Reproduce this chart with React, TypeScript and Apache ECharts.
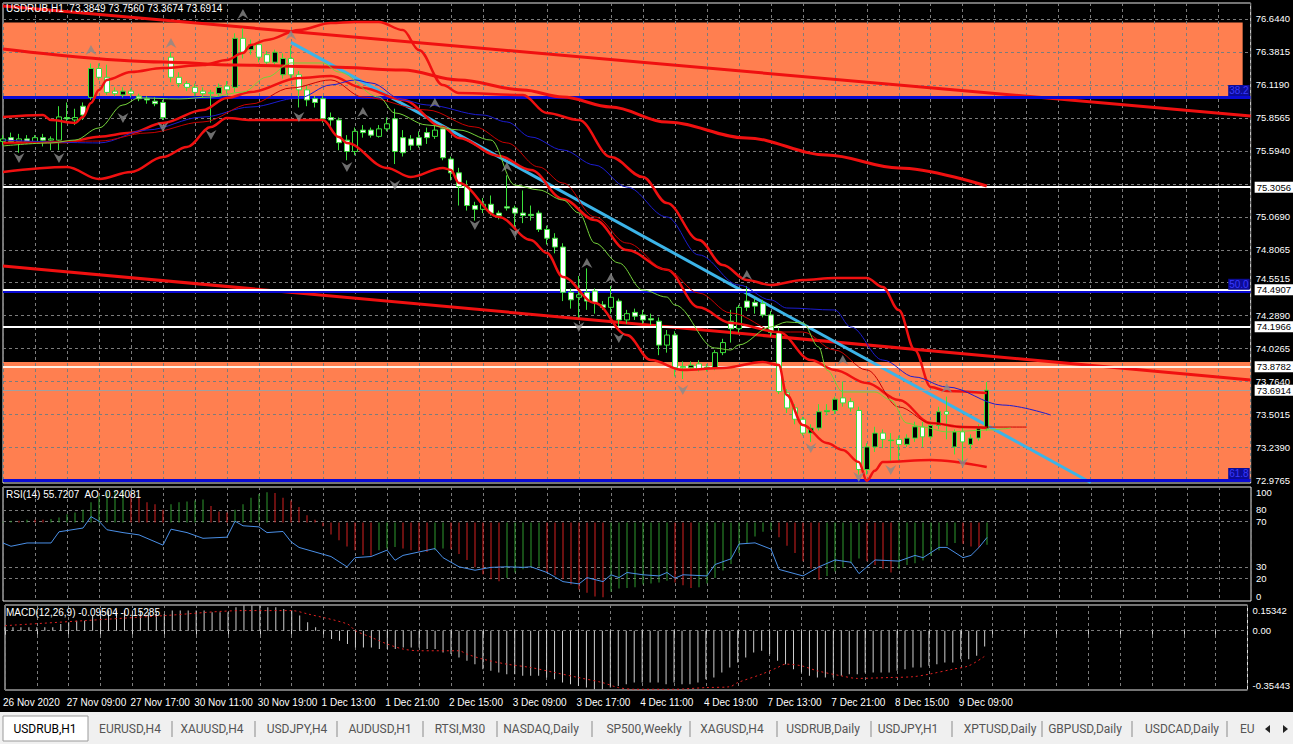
import React, { useEffect, useRef } from "react";
import * as echarts from "echarts";

const FONT = "'Liberation Sans', Arial, sans-serif";
const GRID_COLOR = "#7c7c7c";
const GREEN = "#3be03b";
const RED = "#f01010";
const ORANGE = "#ff7f50";

const tickLabels = ["26 Nov 2020", "27 Nov 09:00", "27 Nov 17:00", "30 Nov 11:00", "30 Nov 19:00", "1 Dec 13:00", "1 Dec 21:00", "2 Dec 15:00", "3 Dec 09:00", "3 Dec 17:00", "4 Dec 11:00", "4 Dec 19:00", "7 Dec 13:00", "7 Dec 21:00", "8 Dec 15:00", "9 Dec 09:00"];
const SLOTS = 157;

const openP = [75.67,75.70,75.67,75.69,75.67,75.70,75.68,75.68,75.86,75.84,
 75.95,76.02,76.25,76.18,76.07,76.04,76.07,76.03,76.01,75.99,
 75.98,76.34,76.18,76.13,76.10,76.07,76.06,76.05,76.11,76.10,
 76.49,76.40,76.44,76.36,76.30,76.20,76.33,76.20,76.08,76.01,
 76.01,75.86,75.84,75.68,75.59,75.76,75.76,75.71,75.77,75.85,
 75.70,75.69,75.70,75.74,75.71,75.77,75.53,75.42,75.31,75.16,
 75.13,75.17,75.10,75.15,75.14,75.10,75.09,75.10,74.97,74.90,
 74.83,74.47,74.43,74.47,74.48,74.37,74.35,74.40,74.25,74.31,
 74.29,74.26,74.24,74.05,74.13,73.88,73.87,73.90,73.87,73.87,
 73.99,74.24,74.18,74.40,74.39,74.38,74.29,74.15,73.67,73.55,
 73.46,73.35,73.39,73.52,73.53,73.63,73.60,73.53,73.06,73.24,
 73.35,73.29,73.30,73.26,73.31,73.40,73.32,73.41,73.52,73.24,
 73.36,73.26,73.31,73.3849];
const closeP = [75.69,75.67,75.69,75.67,75.70,75.68,75.69,75.865,75.85,75.86,
 75.88,76.25,76.18,76.06,76.05,76.07,76.05,76.01,76.00,75.97,
 75.86,76.18,76.13,76.10,76.06,76.05,76.05,76.10,76.08,76.49,
 76.38,76.44,76.34,76.30,76.38,76.33,76.20,76.08,76.00,75.98,
 75.85,75.84,75.66,75.59,75.75,75.74,75.72,75.77,75.81,75.59,
 75.58,75.64,75.64,75.70,75.76,75.54,75.42,75.31,75.16,75.13,
 75.17,75.10,75.08,75.14,75.10,75.08,75.08,74.97,74.90,74.83,
 74.47,74.41,74.45,74.40,74.39,74.35,74.43,74.25,74.30,74.28,
 74.25,74.25,74.05,74.13,73.87,73.87,73.89,73.86,73.875,73.99,
 74.07,74.18,74.35,74.35,74.36,74.29,74.15,73.68,73.55,73.46,
 73.35,73.39,73.52,73.53,73.62,73.59,73.55,73.06,73.24,73.35,
 73.30,73.295,73.26,73.31,73.40,73.32,73.41,73.52,73.50,73.36,
 73.28,73.31,73.39,73.6914];
const highP = [75.72,75.74,75.73,75.72,75.72,75.73,75.71,75.95,75.98,75.93,
 75.98,76.29,76.29,76.28,76.10,76.10,76.09,76.05,76.03,76.02,
 76.00,76.38,76.22,76.15,76.13,76.10,76.08,76.13,76.15,76.53,
 76.57,76.48,76.47,76.39,76.40,76.37,76.43,76.23,76.12,76.03,
 76.03,75.90,75.86,75.72,75.78,75.80,75.78,75.80,75.86,75.93,
 75.76,75.72,75.75,75.78,75.80,75.80,75.55,75.46,75.36,75.19,
 75.22,75.24,75.12,75.40,75.16,75.28,75.16,75.12,75.00,74.94,
 74.86,74.50,74.60,74.66,74.50,74.40,74.52,74.42,74.33,74.34,
 74.33,74.30,74.27,74.17,74.16,73.92,73.92,73.93,73.90,74.01,
 74.10,74.33,74.37,74.52,74.42,74.41,74.32,74.19,73.70,73.58,
 73.48,73.42,73.58,73.58,73.64,73.76,73.63,73.56,73.27,73.40,
 73.38,73.35,73.33,73.34,73.44,73.44,73.44,73.56,73.64,73.38,
 73.40,73.34,73.42,73.7560];
const lowP = [75.64,75.65,75.58,75.65,75.65,75.63,75.60,75.60,75.82,75.80,
 75.84,76.00,76.16,76.04,76.03,76.02,76.02,75.99,75.97,75.95,
 75.84,76.14,76.10,76.07,76.03,76.02,75.82,76.03,76.05,76.06,
 76.33,76.36,76.30,76.28,76.27,76.17,76.17,75.94,75.95,75.94,
 75.82,75.79,75.60,75.52,75.56,75.70,75.70,75.70,75.75,75.49,
 75.55,75.60,75.62,75.65,75.69,75.52,75.36,75.16,75.12,75.04,
 75.10,75.08,75.05,75.12,74.99,75.02,75.04,74.95,74.85,74.78,
 74.40,74.34,74.27,74.33,74.30,74.33,74.30,74.20,74.22,74.25,
 74.22,74.21,73.97,73.99,73.80,73.78,73.85,73.84,73.84,73.85,
 73.97,74.07,74.15,74.32,74.30,74.27,74.12,73.66,73.51,73.42,
 73.33,73.28,73.37,73.49,73.50,73.56,73.52,73.02,73.02,73.20,
 73.23,73.13,73.12,73.24,73.28,73.24,73.30,73.38,73.30,73.18,
 73.10,73.22,73.29,73.3674];

const upperBB = [[0,75.864],[5,75.88],[6,75.84],[9,75.817],[10,75.864],[11,75.976],[12,76.079],[13,76.159],[16,76.222],[20,76.254],[25,76.278],[28,76.318],[30,76.373],[31,76.437],[33,76.477],[37,76.556],[41,76.612],[44,76.62],[47,76.62],[50,76.556],[52,76.397],[55,76.119],[57,76.055],[65,76.039],[68,75.896],[72,75.84],[76,75.546],[80,75.387],[83,75.18],[87,74.886],[90,74.687],[93,74.568],[96,74.528],[100,74.568],[104,74.584],[108,74.584],[110,74.512],[112,74.329],[114,74.011],[116,73.717],[118,73.685],[123,73.669]];
const middleBB = [[0,75.658],[8,75.665],[12,75.707],[16,75.738],[20,75.817],[25,75.92],[28,76.016],[31,76.063],[37,76.175],[41,76.19],[45,76.095],[50,76.0],[55,75.785],[57,75.697],[62,75.554],[66,75.443],[70,75.212],[74,75.045],[78,74.806],[83,74.65],[87,74.35],[91,74.226],[97,74.154],[101,73.931],[104,73.852],[108,73.748],[112,73.613],[116,73.43],[120,73.398],[123,73.39]];
const lowerBB = [[0,75.427],[8,75.467],[12,75.371],[16,75.427],[20,75.546],[23,75.626],[26,75.785],[28,75.856],[31,75.84],[37,75.84],[40,75.84],[42,75.705],[43,75.657],[48,75.459],[51,75.387],[55,75.459],[56,75.443],[57,75.339],[62,75.069],[66,74.886],[68,74.783],[70,74.592],[74,74.385],[78,74.13],[81,73.931],[85,73.852],[90,73.868],[95,73.915],[97,73.891],[98,73.653],[100,73.414],[103,73.271],[105,73.215],[107,73.12],[108,72.97],[109,73.05],[110,73.12],[116,73.136],[123,73.08]];
const longMA = [[0,76.405],[20,76.302],[29,76.278],[41,76.262],[50,76.238],[57,76.159],[65,76.079],[70,76.023],[76,75.944],[83,75.824],[93,75.697],[103,75.562],[112,75.459],[123,75.315]];
const lipsLine = [[0,75.634],[6,75.658],[9,75.681],[12,75.777],[15,75.96],[17,76.016],[22,76.008],[26,76.023],[30,76.063],[33,76.182],[36,76.294],[40,76.294],[42,76.222],[47,76.023],[49,75.896],[53,75.801],[57,75.761],[61,75.681],[64,75.323],[67,75.284],[70,75.204],[72,75.101],[74,74.862],[77,74.703],[80,74.488],[83,74.432],[84,74.369],[89,74.027],[91,74.011],[92,74.051],[96,74.194],[98,74.234],[100,74.226],[102,74.035],[103,73.852],[105,73.677],[109,73.677],[111,73.613],[113,73.43],[115,73.398],[118,73.359],[123,73.374],[126,73.39]];
const teethLine = [[0,75.65],[12,75.673],[18,75.737],[25,75.825],[31,75.968],[36,76.095],[41,76.159],[45,76.023],[53,75.92],[59,75.785],[63,75.658],[67,75.467],[70,75.339],[74,75.069],[78,74.862],[83,74.647],[87,74.464],[91,74.305],[97,74.154],[100,74.154],[104,74.011],[108,73.852],[112,73.558],[116,73.43],[120,73.398],[128,73.398]];
const jawLine = [[0,75.681],[12,75.658],[18,75.761],[25,75.864],[31,75.944],[37,76.016],[41,76.119],[44,76.159],[46,76.135],[50,76.0],[53,75.96],[60,75.88],[63,75.825],[66,75.705],[70,75.602],[74,75.482],[78,75.307],[83,75.069],[87,74.767],[92,74.528],[96,74.409],[98,74.345],[104,74.329],[106,74.194],[110,73.931],[114,73.796],[118,73.717],[125,73.573],[131,73.494]];

const fractalUp = [[11,76.397],[21,76.453],[30,76.684],[36,76.517],[45,75.904],[54,75.976],[63,75.467],[73,74.703],[76,74.584],[93,74.608],[105,73.931],[118,73.709]];
const fractalDown = [[2,75.538],[7,75.538],[15,75.856],[20,75.785],[26,75.721],[37,75.864],[43,75.467],[49,75.323],[59,75.005],[64,74.942],[72,74.194],[77,74.106],[85,73.693],[101,73.231],[107,73.001],[111,73.056],[120,73.112]];

const trendA = [[0, 76.747], [156, 75.872]];
const trendC = [[0, 74.679], [156, 73.772]];
const trendBlue = [[36, 76.458], [136, 72.957]];
const levelLines = [75.3056, 74.4907, 74.1966, 73.8782];
const bidPrice = 73.6914;
const fibLevels = [76.0234, 74.482, 72.977];
const fibNames = ["38.2", "50.0", "61.8"];
const zoneTop = [0, 155, 76.616, 76.023];
const zoneBottom = [0, 156, 73.915, 72.977];

const priceTicks = [76.644, 76.3815, 76.119, 75.8565, 75.594, 75.069, 74.8065, 74.5515, 74.289, 74.0265, 73.764, 73.5015, 73.239, 72.9765];
const priceGrid = [76.644, 76.3815, 76.119, 75.8565, 75.594, 75.3315, 75.069, 74.8065, 74.5515, 74.289, 74.0265, 73.764, 73.5015, 73.239, 72.9765];
const raisedTick = 74.5515;

const rsiLine = [[0,50.9],[1,48],[3,50.9],[6,50.9],[7,60.7],[10,64],[11,74],[12,70],[13,62.5],[15,60],[17,58],[20,49],[21,63],[23,60],[25,55],[28,56],[29,70],[30,66],[32,65],[33,60],[35,61],[36,52],[37,47],[39,43],[41,39],[43,30],[44,38],[46,39],[48,44.6],[49,35.7],[50,40],[52,43],[54,46],[55,38],[57,30],[59,27],[61,29.5],[63,30],[65,29.5],[66,30],[68,25],[70,17],[72,15],[73,20.5],[75,17],[76,23],[77,20.5],[78,25],[80,23],[82,22],[83,25],[84,20],[85,23],[88,22],[89,32],[91,37],[92,50],[94,51],[96,45.5],[97,27.7],[100,22],[102,30],[104,36],[106,34],[107,24],[109,36],[112,35],[114,40],[115,38],[117,47],[118,47],[120,38],[121,40],[122,47],[123,55.72]];
const aoValues = [0.01,0.02,0.02,0.03,0.03,0.03,0.04,0.055,0.09,0.11,
 0.14,0.22,0.29,0.33,0.34,0.35,0.31,0.28,0.22,0.2,
 0.14,0.2,0.22,0.23,0.24,0.25,0.18,0.12,0.11,0.14,
 0.2,0.27,0.31,0.33,0.32,0.27,0.24,0.17,0.08,0.03,
 -0.04,-0.13,-0.19,-0.26,-0.3,-0.35,-0.36,-0.3,-0.28,-0.265,
 -0.28,-0.3,-0.31,-0.32,-0.3,-0.28,-0.29,-0.34,-0.405,-0.485,
 -0.56,-0.615,-0.635,-0.6,-0.54,-0.505,-0.485,-0.48,-0.54,-0.57,
 -0.615,-0.67,-0.725,-0.76,-0.8,-0.81,-0.75,-0.715,-0.71,-0.7,
 -0.67,-0.66,-0.65,-0.63,-0.65,-0.68,-0.71,-0.7,-0.66,-0.6,
 -0.52,-0.45,-0.33,-0.22,-0.15,-0.1,-0.08,-0.16,-0.25,-0.33,
 -0.42,-0.5,-0.62,-0.58,-0.53,-0.49,-0.44,-0.39,-0.42,-0.46,
 -0.5,-0.54,-0.5,-0.46,-0.44,-0.41,-0.36,-0.3,-0.25,-0.22,
 -0.23,-0.26,-0.27,-0.24081];
const macdValues = [0.02,0.02,0.02,0.02,0.02,0.02,0.02,0.04,0.05,0.06,
 0.06,0.09,0.11,0.12,0.12,0.12,0.12,0.12,0.11,0.11,
 0.1,0.12,0.12,0.12,0.12,0.12,0.11,0.11,0.11,0.14,
 0.15,0.15,0.15,0.14,0.14,0.13,0.12,0.09,0.05,0.02,
 -0.01,-0.05,-0.06,-0.08,-0.1,-0.1,-0.1,-0.11,-0.11,-0.11,
 -0.1,-0.1,-0.1,-0.11,-0.11,-0.13,-0.14,-0.16,-0.18,-0.2,
 -0.23,-0.24,-0.25,-0.26,-0.26,-0.27,-0.27,-0.27,-0.28,-0.29,
 -0.31,-0.32,-0.33,-0.34,-0.35,-0.35,-0.34,-0.33,-0.32,-0.31,
 -0.31,-0.31,-0.31,-0.32,-0.31,-0.32,-0.32,-0.31,-0.29,-0.28,
 -0.25,-0.22,-0.19,-0.16,-0.13,-0.12,-0.14,-0.18,-0.2,-0.23,
 -0.25,-0.27,-0.28,-0.28,-0.28,-0.27,-0.26,-0.26,-0.25,-0.25,
 -0.25,-0.25,-0.24,-0.23,-0.22,-0.22,-0.21,-0.2,-0.19,-0.19,
 -0.17,-0.17,-0.15,-0.095];
const macdSignal = [[0,0.03],[10,0.06],[20,0.09],[30,0.12],[36,0.12],[38,0.1],[43,0.04],[44,0.0],[46,-0.04],[48,-0.08],[50,-0.11],[52,-0.12],[57,-0.12],[58,-0.14],[60,-0.17],[63,-0.2],[66,-0.22],[69,-0.25],[72,-0.28],[75,-0.31],[77,-0.34],[79,-0.35],[84,-0.35],[88,-0.34],[91,-0.335],[92,-0.31],[95,-0.26],[97,-0.22],[98,-0.2],[100,-0.21],[102,-0.24],[105,-0.27],[107,-0.285],[111,-0.28],[114,-0.275],[116,-0.26],[119,-0.23],[121,-0.21],[123,-0.15285]];

const headerText = "USDRUB,H1  73.3849 73.7560 73.3674 73.6914";
const rsiText = "RSI(14) 55.7207  AO -0.24081";
const macdText = "MACD(12,26,9) -0.09504 -0.15285";
const tabNames = ["USDRUB,H1", "EURUSD,H4", "XAUUSD,H4", "USDJPY,H4", "AUDUSD,H1", "RTSI,M30", "NASDAQ,Daily", "SP500,Weekly", "XAGUSD,H4", "USDRUB,Daily", "USDJPY,H1", "XPTUSD,Daily", "GBPUSD,Daily", "USDCAD,Daily", "EU"];
const tabCenters = [45, 130, 212, 297, 380, 460, 541, 644, 732, 823, 908, 1000, 1085, 1182, 1240];
const tabSeparators = [172, 255, 337, 423, 497, 592, 690, 777, 871, 952, 1042, 1132, 1227];

const UP_ARROW = "path://M5,0 L10,9 L5,6 L0,9 Z";
const DOWN_ARROW = "path://M0,0 L5,3 L10,0 L5,9 Z";

export default function App() {
  const ref = useRef<HTMLDivElement>(null);
  useEffect(() => {
    if (!ref.current) return;
    const chart = echarts.init(ref.current, null, { renderer: "svg" });
    const categories = Array.from({ length: SLOTS }, (_, i) => String(i));
    const candleData = openP.map((o, i) => [o, closeP[i], lowP[i], highP[i]]);
    const aoData = aoValues.map((v, i) => ({
      value: v,
      itemStyle: { color: i === 0 || v > aoValues[i - 1] ? "#2f9a2f" : "#d42020" },
    }));
    const dashed = { color: GRID_COLOR, type: [3, 3] as any, width: 1 };
    const xAxisFor = (gi: number, labels: boolean) => ({
      type: "category",
      gridIndex: gi,
      data: categories,
      boundaryGap: false,
      z: 2,
      axisLine: { show: false },
      axisTick: { show: labels, interval: 3, length: 4, lineStyle: { color: "#d0d0d0" } },
      axisLabel: {
        show: labels,
        interval: (i: number) => i % 8 === 0 && i / 8 < tickLabels.length,
        formatter: (_v: string, i: number) => tickLabels[Math.round(i / 8)] || "",
        align: "left",
        margin: 7,
        color: "#fff",
        fontSize: 10,
        fontFamily: FONT,
        padding: [0, 0, 0, -2],
      },
      splitLine: { show: true, interval: 3, lineStyle: dashed },
    });
    const lineSeries = (data: number[][], color: string, width: number, z: number, smooth = 0.35) => ({
      type: "line",
      xAxisIndex: 0,
      yAxisIndex: 0,
      data,
      symbol: "none",
      smooth,
      smoothMonotone: "x",
      lineStyle: { color, width },
      z,
      silent: true,
    });
    const levelLabel = {
      show: true,
      position: "end",
      distance: 4,
      backgroundColor: "#fff",
      color: "#000",
      padding: [1, 2, 0, 2],
      fontSize: 9.5,
      fontFamily: FONT,
    };

    const option: any = {
      animation: false,
      backgroundColor: "#000",
      title: [
        { text: headerText, left: 6, top: 3, padding: 0, textStyle: { color: "#fff", fontSize: 10, fontWeight: "normal", fontFamily: FONT } },
        { text: rsiText, left: 6, top: 489, padding: 0, textStyle: { color: "#fff", fontSize: 10, fontWeight: "normal", fontFamily: FONT } },
        { text: macdText, left: 6, top: 607, padding: 0, textStyle: { color: "#fff", fontSize: 10, fontWeight: "normal", fontFamily: FONT } },
      ],
      grid: [
        { left: 3, top: 3, width: 1248, height: 480, show: true, borderColor: "#e8e8e8", borderWidth: 1, backgroundColor: "transparent" },
        { left: 3, top: 487, width: 1248, height: 114, show: true, borderColor: "#e8e8e8", borderWidth: 1, backgroundColor: "transparent" },
        { left: 3, top: 605, width: 1248, height: 85, show: true, borderColor: "#e8e8e8", borderWidth: 1, backgroundColor: "transparent" },
      ],
      xAxis: [xAxisFor(0, false), xAxisFor(1, false), xAxisFor(2, true)],
      yAxis: [
        {
          type: "value", gridIndex: 0, position: "right", min: 72.953, max: 76.771, z: 2,
          axisLine: { show: false },
          axisTick: { show: false, customValues: priceGrid },
          axisLabel: {
            customValues: priceTicks,
            formatter: (v: number) => (Math.abs(v - raisedTick) < 1e-6 ? `{up|${v.toFixed(4)}}` : v.toFixed(4)),
            rich: { up: { color: "#fff", fontSize: 9.5, fontFamily: FONT, padding: [0, 0, 8, 0] } },
            color: "#fff", fontSize: 9.5, margin: 5, fontFamily: FONT,
          },
          splitLine: { show: true, lineStyle: dashed },
        },
        {
          type: "value", gridIndex: 1, position: "right", min: 0, max: 100, z: 2,
          axisLine: { show: false },
          axisTick: { show: false, customValues: [20, 30, 70, 80] },
          axisLabel: { customValues: [0, 20, 30, 70, 80, 100], color: "#fff", fontSize: 9.5, margin: 5, fontFamily: FONT, verticalAlignMaxLabel: "top", verticalAlignMinLabel: "bottom" },
          splitLine: { show: true, lineStyle: dashed },
        },
        { type: "value", gridIndex: 1, min: -0.85, max: 0.386, show: false, splitLine: { show: false } },
        {
          type: "value", gridIndex: 2, position: "right", min: -0.35443, max: 0.15342, z: 2,
          axisLine: { show: false },
          axisTick: { show: false, customValues: [0] },
          axisLabel: { customValues: [-0.35443, 0, 0.15342], formatter: (v: number) => (v === 0 ? "0.00" : v.toFixed(5)), color: "#fff", fontSize: 9.5, margin: 5, fontFamily: FONT, verticalAlignMaxLabel: "top", verticalAlignMinLabel: "bottom" },
          splitLine: { show: true, lineStyle: dashed },
        },
      ],
      series: [
        {
          type: "line", xAxisIndex: 0, yAxisIndex: 0, data: [], z: 1, silent: true,
          markArea: {
            silent: true,
            itemStyle: { color: ORANGE },
            data: [
              [{ xAxis: zoneTop[0], yAxis: zoneTop[2] }, { xAxis: zoneTop[1], yAxis: zoneTop[3] }],
              [{ xAxis: zoneBottom[0], yAxis: zoneBottom[2] }, { xAxis: zoneBottom[1], yAxis: zoneBottom[3] }],
            ],
          },
        },
        {
          type: "candlestick", xAxisIndex: 0, yAxisIndex: 0, data: candleData, barWidth: 5, z: 5, silent: true,
          itemStyle: { color: "#000", color0: "#fff", borderColor: GREEN, borderColor0: GREEN, borderWidth: 1 },
        },
        lineSeries(longMA, RED, 3, 6),
        lineSeries(upperBB, RED, 2.5, 6),
        lineSeries(middleBB, RED, 2.5, 6),
        lineSeries(lowerBB, RED, 2.5, 6),
        lineSeries(jawLine, "#1c1cd0", 1, 7),
        lineSeries(teethLine, "#c80000", 1, 7),
        lineSeries(lipsLine, "#74d23a", 1, 7),
        {
          type: "scatter", xAxisIndex: 0, yAxisIndex: 0, data: fractalUp, symbol: UP_ARROW, symbolSize: [11, 10], z: 7, silent: true,
          itemStyle: { color: "#8a8a8a" },
        },
        {
          type: "scatter", xAxisIndex: 0, yAxisIndex: 0, data: fractalDown, symbol: DOWN_ARROW, symbolSize: [11, 10], z: 7, silent: true,
          itemStyle: { color: "#8a8a8a" },
        },
        {
          type: "line", xAxisIndex: 0, yAxisIndex: 0, data: [], z: 8, silent: true, clip: false,
          markLine: {
            silent: true,
            symbol: ["none", "none"],
            precision: 4,
            data: [
              [{ coord: trendA[0], lineStyle: { color: RED, width: 3, type: "solid" }, label: { show: false } }, { coord: trendA[1] }],
              [{ coord: trendC[0], lineStyle: { color: RED, width: 3, type: "solid" }, label: { show: false } }, { coord: trendC[1] }],
              [{ coord: trendBlue[0], lineStyle: { color: "#3cb4e8", width: 3, type: "solid" }, label: { show: false } }, { coord: trendBlue[1] }],
              ...fibLevels.map((v, i) => ({
                yAxis: v,
                lineStyle: { color: "#0a0ad2", width: 3, type: "solid" },
                label: { show: true, position: "insideEndTop", distance: 1, formatter: fibNames[i], backgroundColor: "#0c0c96", color: "#3a3aff", padding: [1, 1, 0, 1], fontSize: 10, fontFamily: FONT },
              })),
              ...levelLines.map((v, i) => ({
                yAxis: v,
                lineStyle: { color: i === 3 ? "#fff0e6" : "#ffffff", width: 2, type: "solid" },
                label: { ...levelLabel, formatter: v.toFixed(4) },
              })),
              {
                yAxis: bidPrice,
                lineStyle: { color: "#a0a0a0", width: 1, type: "solid" },
                label: { ...levelLabel, formatter: bidPrice.toFixed(4) },
              },
            ],
          },
        },
        {
          type: "bar", xAxisIndex: 1, yAxisIndex: 2, data: aoData, barWidth: 1, z: 3, silent: true,
        },
        {
          type: "line", xAxisIndex: 1, yAxisIndex: 1, data: rsiLine, symbol: "none", z: 4, silent: true,
          lineStyle: { color: "#4a8fe6", width: 1 },
        },
        {
          type: "bar", xAxisIndex: 2, yAxisIndex: 3, data: macdValues, barWidth: 1, z: 3, silent: true,
          itemStyle: { color: "#cfcfcf" },
        },
        {
          type: "line", xAxisIndex: 2, yAxisIndex: 3, data: macdSignal, symbol: "none", smooth: 0.3, z: 4, silent: true,
          lineStyle: { color: "#e02020", width: 1, type: [2, 3] },
        },
      ],
      graphic: [
        { type: "rect", silent: true, shape: { x: 0, y: 712, width: 1293, height: 32 }, style: { fill: "#f0f0f0" } },
        { type: "rect", silent: true, shape: { x: 3, y: 716, width: 85, height: 25 }, style: { fill: "#ffffff", stroke: "#9a9a9a", lineWidth: 1 } },
        ...tabNames.map((t, i) => ({
          type: "text",
          silent: true,
          x: tabCenters[i],
          y: 729,
          style: {
            text: t,
            fill: i === 0 ? "#000" : "#555",
            font: `12px Roboto, 'Liberation Sans', sans-serif`,
            textAlign: i === tabNames.length - 1 ? "left" : "center",
            textVerticalAlign: "middle",
          },
        })),
        ...tabSeparators.map((x) => ({
          type: "line", silent: true,
          shape: { x1: x, y1: 721, x2: x, y2: 737 },
          style: { stroke: "#8a8a8a", lineWidth: 1 },
        })),
        { type: "polygon", silent: true, shape: { points: [[1270, 725], [1270, 733], [1265, 729]] }, style: { fill: "#222" } },
        { type: "polygon", silent: true, shape: { points: [[1283, 725], [1283, 733], [1288, 729]] }, style: { fill: "#222" } },
      ],
    };
    chart.setOption(option);
    return () => chart.dispose();
  }, []);
  return <div ref={ref} style={{ position: "fixed", left: 0, top: 0, width: 1293, height: 744 }} />;
}
